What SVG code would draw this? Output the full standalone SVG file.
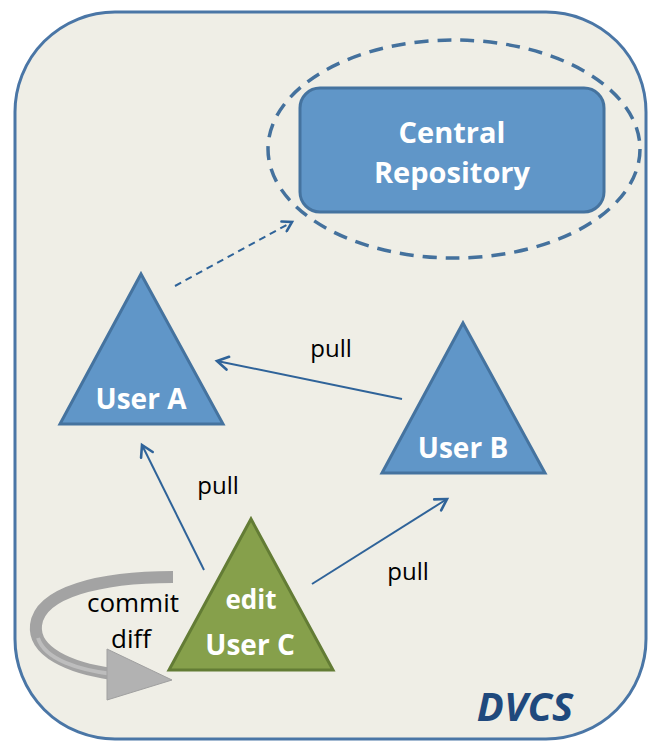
<svg xmlns="http://www.w3.org/2000/svg" width="652" height="743" viewBox="0 0 652 743">
  <defs>
    <style>
      .blue-tri { fill: #6096C8; stroke: #45739F; stroke-width: 3; stroke-linejoin: miter; }
      .green-tri { fill: #86A04B; stroke: #637C35; stroke-width: 3; }
      .wlabel { font-family: "Open Sans", "Liberation Sans", sans-serif; font-weight: bold; fill: #ffffff; text-anchor: middle; }
      .blabel { font-family: "Open Sans", "Liberation Sans", sans-serif; fill: #000000; text-anchor: middle; font-size: 24px; }
      .conn { stroke: #2F6399; stroke-width: 2; fill: none; }
    </style>
    <marker id="arrow" markerUnits="userSpaceOnUse" markerWidth="16" markerHeight="16" refX="13" refY="8" orient="auto">
      <path d="M2,1.5 L13,8 L2,14.5" fill="none" stroke="#2F6399" stroke-width="2.6" stroke-linecap="round"/>
    </marker>
    <marker id="arrowSmall" markerUnits="userSpaceOnUse" markerWidth="14" markerHeight="14" refX="11" refY="7" orient="auto">
      <path d="M2,1.5 L11,7 L2,12.5" fill="none" stroke="#2F6399" stroke-width="2.6" stroke-linecap="round"/>
    </marker>
  </defs>

  <rect width="652" height="743" fill="#ffffff"/>

  <g id="dvcs-frame">
    <rect x="15" y="12" width="631" height="727" rx="100" ry="100" fill="#EFEEE6" stroke="#4A76A6" stroke-width="3"/>
    <text x="525" y="721" font-family="Open Sans, Liberation Sans, sans-serif" font-weight="bold" font-style="italic" font-size="40" fill="#1F497D" text-anchor="middle">DVCS</text>
  </g>

  <g id="central-repository">
    <ellipse cx="454" cy="149" rx="186" ry="109" fill="none" stroke="#44719D" stroke-width="3.5" stroke-dasharray="14 9"/>
    <rect x="300" y="88" width="304" height="124" rx="20" ry="20" fill="#6096C8" stroke="#45739F" stroke-width="3"/>
    <text class="wlabel" font-size="29" x="452" y="143">Central</text>
    <text class="wlabel" font-size="29" x="452" y="183">Repository</text>
  </g>

  <g id="connectors">
    <line class="conn" x1="175" y1="286" x2="292" y2="222" stroke-dasharray="7 5" marker-end="url(#arrowSmall)"/>
    <line class="conn" x1="402" y1="399" x2="217" y2="361" marker-end="url(#arrow)"/>
    <line class="conn" x1="204" y1="570" x2="142" y2="445" marker-end="url(#arrow)"/>
    <line class="conn" x1="312" y1="584" x2="447" y2="499" marker-end="url(#arrow)"/>
    <text class="blabel" x="331" y="357">pull</text>
    <text class="blabel" x="218" y="494">pull</text>
    <text class="blabel" x="408" y="580">pull</text>
  </g>

  <g id="commit-loop">
    <path d="M173,577 C100,577 40,592 36,625 C33,652 70,668 112,674" fill="none" stroke="#A3A3A3" stroke-width="12"/>
    <path d="M112,674 C80,670 45,660 38,638" fill="none" stroke="#BDBDBD" stroke-width="4"/>
    <polygon points="107,649 172,680 107,700" fill="#B2B2B2" stroke="#A0A0A0" stroke-width="1"/>
    <text class="blabel" x="133" y="612" style="font-size:26px">commit</text>
    <text class="blabel" x="131" y="648" style="font-size:26px">diff</text>
  </g>

  <g id="user-a">
    <polygon class="blue-tri" points="141,274 223,424 60,424"/>
    <text class="wlabel" font-size="28" x="141" y="409">User A</text>
  </g>

  <g id="user-b">
    <polygon class="blue-tri" points="463,323 545,473 382,473"/>
    <text class="wlabel" font-size="28" x="463" y="458">User B</text>
  </g>

  <g id="user-c">
    <polygon class="green-tri" points="251,519 333,670 169,670"/>
    <text class="wlabel" font-size="26" x="251" y="609">edit</text>
    <text class="wlabel" font-size="28" x="250" y="655">User C</text>
  </g>
</svg>
